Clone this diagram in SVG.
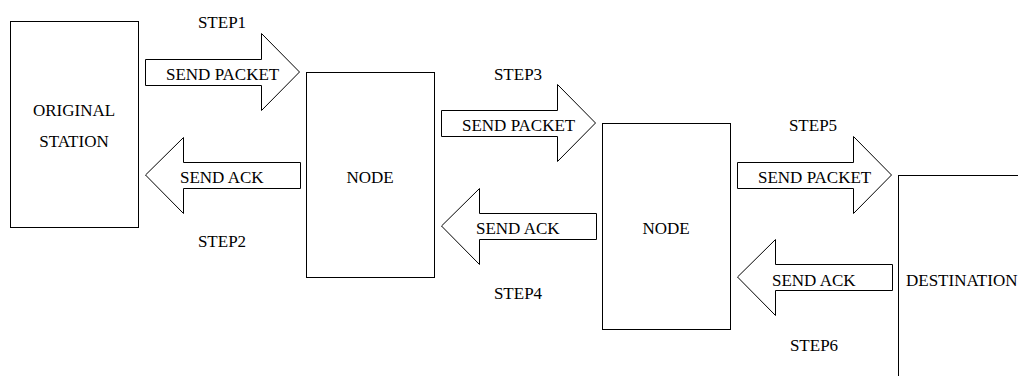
<svg xmlns="http://www.w3.org/2000/svg" width="1018" height="376" viewBox="0 0 1018 376">
<defs>
<style>
.box{fill:#fff;stroke:#000;stroke-width:1}
.arr{fill:#fff;stroke:#000;stroke-width:1;stroke-linejoin:miter}
text{font-family:"Liberation Serif","Times New Roman",serif;font-size:17px;fill:#000}
.c{text-anchor:middle}
</style>
<polygon id="rarrow" class="arr" points="145.5,59.5 261.5,59.5 261.5,33.5 299.5,72 261.5,110.5 261.5,85.5 145.5,85.5"/>
<polygon id="larrow" class="arr" points="145.5,175 183.5,137.5 183.5,162.5 300.5,162.5 300.5,188.5 183.5,188.5 183.5,213.5"/>
</defs>
<rect width="1018" height="376" fill="#fff"/>
<g id="original-station">
<rect class="box" x="10.5" y="21.5" width="128" height="206"/>
<text class="c" x="74" y="116">ORIGINAL</text>
<text class="c" x="74" y="147">STATION</text>
</g>
<g id="node1">
<rect class="box" x="306.5" y="72.5" width="128" height="205"/>
<text class="c" x="370" y="183">NODE</text>
</g>
<g id="node2">
<rect class="box" x="602.5" y="123.5" width="128" height="206"/>
<text class="c" x="666" y="234">NODE</text>
</g>
<g id="destination">
<rect class="box" x="898.5" y="175.5" width="140" height="230"/>
<text x="906" y="286">DESTINATION</text>
</g>
<g id="connectors">
<g id="step1">
<use href="#rarrow"/>
<text x="166" y="80">SEND PACKET</text>
<text class="c" x="222" y="28">STEP1</text>
</g>
<g id="step2">
<use href="#larrow"/>
<text x="180" y="183">SEND ACK</text>
<text class="c" x="222" y="247">STEP2</text>
</g>
<g id="step3">
<use href="#rarrow" transform="translate(296,51)"/>
<text x="462" y="131">SEND PACKET</text>
<text class="c" x="518" y="80">STEP3</text>
</g>
<g id="step4">
<use href="#larrow" transform="translate(296,51)"/>
<text x="476" y="234">SEND ACK</text>
<text class="c" x="518" y="299">STEP4</text>
</g>
<g id="step5">
<use href="#rarrow" transform="translate(592,103)"/>
<text x="758" y="183">SEND PACKET</text>
<text class="c" x="813" y="131">STEP5</text>
</g>
<g id="step6">
<use href="#larrow" transform="translate(592,102)"/>
<text x="772" y="286">SEND ACK</text>
<text class="c" x="814" y="351">STEP6</text>
</g>
</g>
</svg>
